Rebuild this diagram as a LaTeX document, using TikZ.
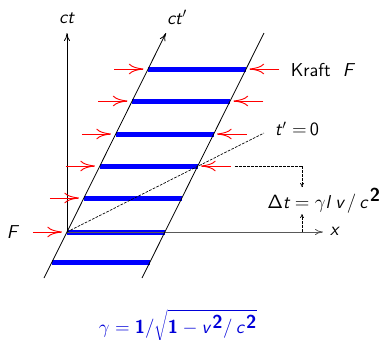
\documentclass[tikz,border=0pt]{standalone}
\usetikzlibrary{arrows.meta}
\newcommand\sit[1]{\textsf{\itshape #1}}
\newcommand\sbf[1]{\textsf{\bfseries #1}}
\begin{document}
\begin{tikzpicture}[x=0.75pt,y=-0.75pt,
  axis/.style={-{To[length=6pt,width=4.5pt]}, line width=0.6pt},
  wline/.style={line width=0.6pt},
  rod/.style={blue, line width=3.75pt},
  force/.style={red, line width=0.7pt, -{To[length=11pt,width=8pt]}},
  dline/.style={dash pattern=on 2pt off 1pt, line width=0.5pt},
  lbl/.style={font=\fontsize{14}{16}\selectfont\sffamily, inner sep=0pt}]
\useasboundingbox (0,0) rectangle (380,340);
% coordinates
\coordinate (O) at (67,232);
\coordinate (ctTop) at (67,33);
\coordinate (LB) at (44,278);
\coordinate (LT) at (166,33);
\coordinate (RB) at (142,278);
\coordinate (RT) at (264,33);
\coordinate (xTip) at (323,232);
\coordinate (sEnd) at (264,133);
\coordinate (dA) at (235,166);
\coordinate (dB) at (302,166);
\coordinate (dC) at (302,187);
\coordinate (dD) at (302,232);
\coordinate (dE) at (302,214);
% rods
\foreach \y in {69,101,134,166,198,232}
  \draw[rod] ({67+(232-\y)/2},\y) -- ({165+(232-\y)/2},\y);
\draw[rod] (52,262) -- (150,262);
% axes and world lines
\draw[axis,gray!70!black] (O) -- (xTip);
\draw[axis] (O) -- (ctTop);
\draw[wline] (LB) -- (O);
\draw[axis] (O) -- (LT);
\draw[wline] (RB) -- (RT);
\draw[dline] (O) -- (sEnd);
\draw[dline] (dA) -- (dB);
\draw[dline,-{To[length=3pt,width=3pt]}] (dB) -- (dC);
\draw[dline,-{To[length=3pt,width=3pt]}] (dD) -- (dE);
% forces
\foreach \y in {69,101,134,166,198,232}
  \draw[force] ({67+(232-\y)/2-34},\y) -- ({67+(232-\y)/2-5},\y);
\foreach \y in {69,101,134,166}
  \draw[force] ({165+(232-\y)/2+33},\y) -- ({165+(232-\y)/2+3},\y);
% labels
\node[lbl] (lct) at (67,18) {\sit{ct}};
\node[lbl] (lctp) at (177,17) {\sit{ct}$'$};
\node[lbl] (lkraft) at (323,70) {Kraft\ \ \sit{F}};
\node[lbl] (lt0) at (297,129) {\sit{t}$'=\,$0};
\node[lbl] (lF) at (13,232) {\sit{F}};
\node[lbl] (lx) at (335,231) {\sit{x}};
\node[lbl] (ldt) at (324,201) {$\mathsf{\Delta}\sit{t}=\gamma\sit{l}\;\sit{v}\,/\,\sit{c}^{\,\sbf{2}}$};
\node[lbl,text=blue!85!black] (lgam) at (178,326) {$\gamma=\sbf{1}/\sqrt{\sbf{1}-\sit{v}^{\,\sbf{2}}/\,\sit{c}^{\,\sbf{2}}}$};
\end{tikzpicture}
\end{document}
